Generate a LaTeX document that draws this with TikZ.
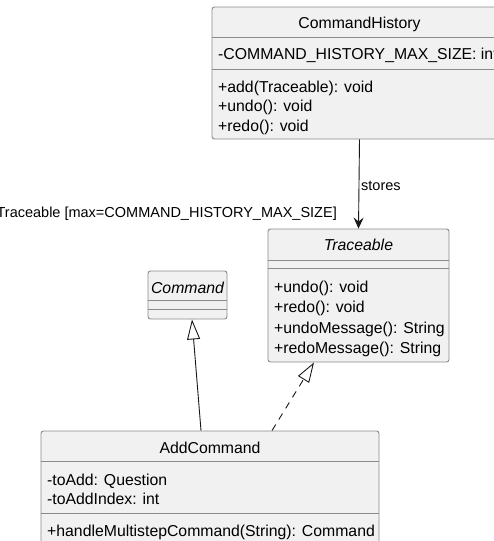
\documentclass[tikz,border=0pt]{standalone}
\usepackage{fontspec}
\setmainfont{Liberation Sans}
\usetikzlibrary{arrows.meta}

\definecolor{boxfill}{HTML}{F1F1F1}
\definecolor{boxline}{HTML}{8A8A8A}
\definecolor{linkline}{HTML}{181818}

\begin{document}
\begin{tikzpicture}[x=1pt,y=-1pt,
    classbox/.style={draw=boxline,fill=boxfill,line width=0.9pt,rounded corners=2.5pt,inner sep=0pt},
    divider/.style={draw=boxline,line width=0.9pt},
    ctitle/.style={inner sep=0pt,text height=11.5pt,text depth=0pt,font=\fontsize{15.8}{18}\selectfont},
    member/.style={ctitle,anchor=west},
    link/.style={draw=linkline,line width=0.9pt},
    linklabel/.style={inner sep=0pt,text height=10.5pt,text depth=0pt,font=\fontsize{14.5}{17}\selectfont}]

  \useasboundingbox (0,0) rectangle (494,541);

  % class frames
  \node[classbox,minimum width=295pt,minimum height=132pt] (hist) at (359.5,73) {};
  \node[classbox,minimum width=181pt,minimum height=133pt] (trace) at (358.5,295.5) {};
  \node[classbox,minimum width=79pt,minimum height=48pt] (cmd) at (187.5,295) {};
  \node[classbox,minimum width=338pt,minimum height=119pt] (addcmd) at (210,490.5) {};

  % compartments
  \foreach \n/\a/\b in {hist/31/63, trace/32/40, cmd/30/39, addcmd/31/83} {
    \draw[divider] ([yshift=-\a pt]\n.north west) -- ([yshift=-\a pt]\n.north east);
    \draw[divider] ([yshift=-\b pt]\n.north west) -- ([yshift=-\b pt]\n.north east);
  }

  % CommandHistory
  \node[ctitle] (histname) at (359.5,23) {CommandHistory};
  \node[member] (histsize) at (218,54) {-COMMAND\_HISTORY\_MAX\_SIZE: int};
  \foreach \y/\t in {87/{+add(Traceable): void}, 106/{+undo(): void}, 126/{+redo(): void}}
    \node[member] at (218,\y) {\t};

  % Traceable
  \node[ctitle,font=\fontsize{15.8}{18}\selectfont\itshape] (tracename) at (358.5,245) {Traceable};
  \foreach \y/\t in {287/{+undo(): void}, 307/{+redo(): void}, 328/{+undoMessage(): String}, 348/{+redoMessage(): String}}
    \node[member] at (274,\y) {\t};

  % Command
  \node[ctitle,font=\fontsize{15.8}{18}\selectfont\itshape] (cmdname) at (187.5,288) {Command};

  % AddCommand
  \node[ctitle] (addname) at (210,448) {AddCommand};
  \foreach \y/\t in {480/{-toAdd: Question}, 499/{-toAddIndex: int}, 531/{+handleMultistepCommand(String): Command}}
    \node[member] at (47,\y) {\t};

  % relations
  \draw[link,-{Stealth[length=11pt,width=10pt,inset=4pt]}] (hist.south) -- (trace.north);
  \node[linklabel,anchor=west] (stores) at (361,185) {stores};
  \node[linklabel,anchor=east] (maxlabel) at (337,212) {Traceable [max=COMMAND\_HISTORY\_MAX\_SIZE]};

  \draw[link,-{Triangle[open,length=20pt,width=13pt]}] ([xshift=-9pt]addcmd.north) -- ([xshift=4.5pt]cmd.south);
  \draw[link,dash pattern=on 7pt off 6pt,-{Triangle[open,length=20pt,width=13pt]}] ([xshift=62pt]addcmd.north) -- ([xshift=-44.5pt]trace.south);
\end{tikzpicture}
\end{document}
